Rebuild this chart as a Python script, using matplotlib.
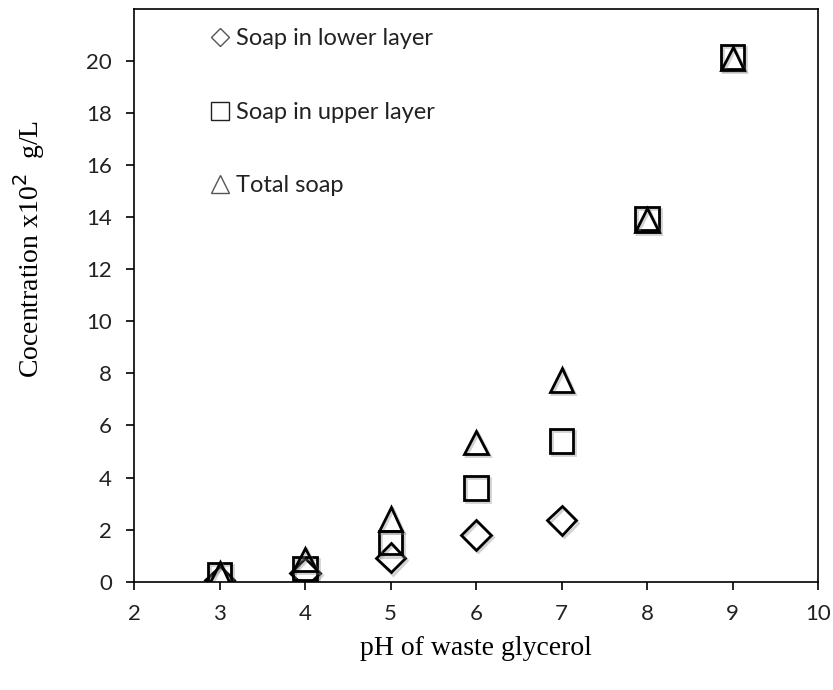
import numpy as np
import matplotlib.pyplot as plt
from matplotlib.lines import Line2D
import matplotlib.patheffects as pe

# data
ph = [3, 4, 5, 6, 7, 8, 9]
soap_lower = [0.05, 0.35, 0.92, 1.8, 2.35, np.nan, np.nan]
soap_upper = [0.25, 0.5, 1.5, 3.6, 5.4, 13.95, 20.15]
soap_total = [0.3, 0.85, 2.4, 5.35, 7.75, 13.9, 20.1]

x_ticks = [2, 3, 4, 5, 6, 7, 8, 9, 10]
y_ticks = [0, 2, 4, 6, 8, 10, 12, 14, 16, 18, 20]

sans = ['Lato', 'DejaVu Sans']
serif = 'Liberation Serif'

fig = plt.figure(figsize=(8.33, 6.9), dpi=100)
ax = fig.add_axes([0.161, 0.157, 0.821, 0.830])

shadow = [pe.SimpleLineShadow(offset=(1.5, -1.5), shadow_color='gray', alpha=0.35), pe.Normal()]
style = dict(linestyle='none', markerfacecolor='none', markeredgecolor='black',
             markeredgewidth=2.0, path_effects=shadow)
ax.plot(ph, soap_lower, marker='D', markersize=15, **style)
ax.plot(ph, soap_upper, marker='s', markersize=17, **style)
ax.plot(ph, soap_total, marker='^', markersize=17, **style)

ax.set_xlim(2, 10)
ax.set_ylim(0, 22)
ax.set_xticks(x_ticks)
ax.set_yticks(y_ticks)
ax.tick_params(direction='out', length=6, width=1.2, labelsize=16, pad=10)
for lab in ax.get_xticklabels() + ax.get_yticklabels():
    lab.set_family(sans)
    lab.set_color('#222222')
for sp in ax.spines.values():
    sp.set_linewidth(1.2)

ax.set_xlabel('pH of waste glycerol', family=serif, fontsize=20)
ax.set_ylabel('Cocentration x10$^2$  g/L', family=serif, fontsize=20)
ax.xaxis.set_label_coords(0.5, -0.095)
ax.yaxis.set_label_coords(-0.128, 0.58)

handles = [
    Line2D([], [], linestyle='none', marker='D', markersize=9, markerfacecolor='none',
           markeredgecolor='#555555', markeredgewidth=1.0),
    Line2D([], [], linestyle='none', marker='s', markersize=13, markerfacecolor='none',
           markeredgecolor='#222222', markeredgewidth=1.0),
    Line2D([], [], linestyle='none', marker='^', markersize=13, markerfacecolor='none',
           markeredgecolor='#555555', markeredgewidth=1.0),
]
labels = ['Soap in lower layer', 'Soap in upper layer', 'Total soap']
ax.legend(handles, labels, loc='upper left', bbox_to_anchor=(0.087, 0.995), frameon=False,
          prop={'family': sans, 'size': 17}, labelspacing=2.22, handlelength=0.8,
          handletextpad=0.3, borderpad=0.2, labelcolor='#222222')

fig.savefig('out.png', dpi=100)
